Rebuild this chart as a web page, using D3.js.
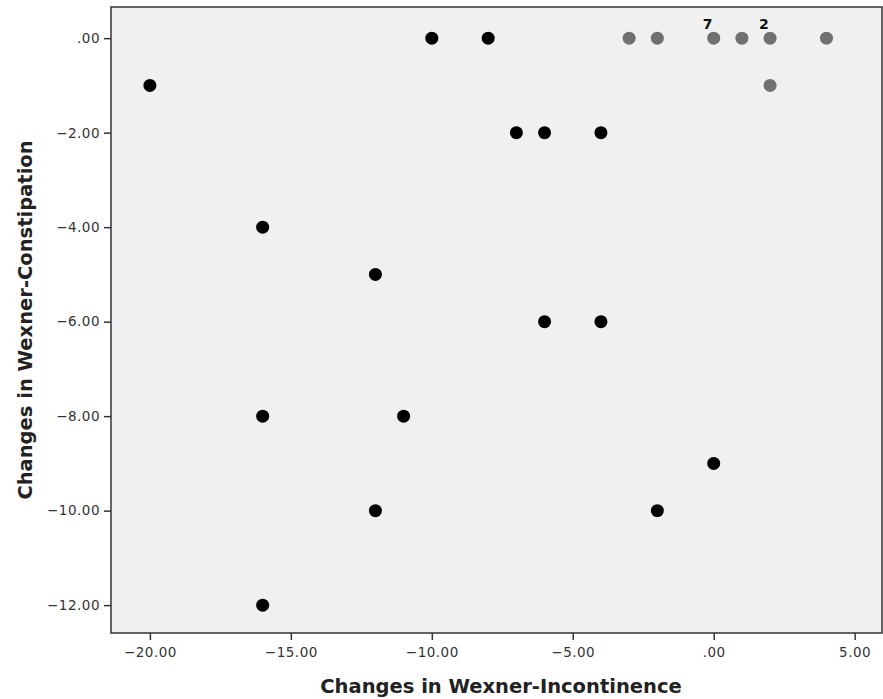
<!DOCTYPE html>
<html>
<head>
<meta charset="utf-8">
<script src="https://cdn.jsdelivr.net/npm/d3@7"></script>
<style>
  body { margin: 0; background: #fff; }
  text { font-family: "DejaVu Sans", sans-serif; }
</style>
</head>
<body>
<div id="chart"></div>
<script>
// black points: [incontinence change, constipation change]
var blackX = [-20, -10, -8, -7, -6, -4, -16, -12, -6, -4, -16, -11, 0, -12, -2, -16];
var blackY = [-1, 0, 0, -2, -2, -2, -4, -5, -6, -6, -8, -8, -9, -10, -10, -12];
// grey points
var greyX = [-3, -2, 0, 1, 2, 4, 2];
var greyY = [0, 0, 0, 0, 0, 0, -1];
var greyLabel = ["", "", "7", "", "2", "", ""];

var xTicks = [-20, -15, -10, -5, 0, 5];
var yTicks = [0, -2, -4, -6, -8, -10, -12];

var width = 883, height = 699;
var pad = {t: 7, r: 1, b: 66, l: 111};

var svg = d3.select("#chart").append("svg")
	.attr("width", width)
	.attr("height", height);

var x = d3.scaleLinear().domain([-21.38, 5.97]).range([pad.l, width - pad.r]);
var y = d3.scaleLinear().domain([0.66, -12.59]).range([pad.t, height - pad.b]);

function fmt(d) {
	var s = d3.format(".2f")(d);
	if (s === "0.00") return ".00";
	return s;
}

// plot background
svg.append("rect")
	.attr("x", pad.l).attr("y", pad.t)
	.attr("width", width - pad.r - pad.l)
	.attr("height", height - pad.b - pad.t)
	.attr("fill", "#f0f0f0")
	.attr("stroke", "#333")
	.attr("stroke-width", 1.5);

var xAxis = svg.append("g")
	.attr("transform", "translate(0," + (height - pad.b) + ")")
	.call(d3.axisBottom(x).tickValues(xTicks).tickFormat(fmt).tickSize(7).tickPadding(7));
var yAxis = svg.append("g")
	.attr("transform", "translate(" + pad.l + ",0)")
	.call(d3.axisLeft(y).tickValues(yTicks).tickFormat(fmt).tickSize(7).tickPadding(4));

[xAxis, yAxis].forEach(function(g) {
	g.select(".domain").remove();
	g.selectAll(".tick line").attr("stroke", "#333").attr("stroke-width", 1.5);
	g.selectAll(".tick text").attr("fill", "#333").style("font-size", "13.5px").style("letter-spacing", "0.5px");
});

var plot = svg.append("g");

plot.selectAll("circle.grey")
	.data(greyX)
	.enter().append("circle")
	.attr("class", "grey")
	.attr("cx", function(d) { return x(d); })
	.attr("cy", function(d, i) { return y(greyY[i]); })
	.attr("r", 6.5)
	.attr("fill", "#707070");

plot.selectAll("circle.black")
	.data(blackX)
	.enter().append("circle")
	.attr("class", "black")
	.attr("cx", function(d) { return x(d); })
	.attr("cy", function(d, i) { return y(blackY[i]); })
	.attr("r", 6.5)
	.attr("fill", "#000");

plot.selectAll("text.lbl")
	.data(greyX)
	.enter().append("text")
	.attr("class", "lbl")
	.attr("x", function(d) { return x(d) - 11; })
	.attr("y", function(d, i) { return y(greyY[i]) - 9; })
	.style("font-size", "14px")
	.style("font-weight", "bold")
	.attr("fill", "#111")
	.text(function(d, i) { return greyLabel[i]; });

svg.append("text")
	.attr("x", 501)
	.attr("y", 693)
	.attr("text-anchor", "middle")
	.style("font-size", "19.5px")
	.style("font-weight", "bold")
	.attr("fill", "#222")
	.text("Changes in Wexner-Incontinence");

svg.append("text")
	.attr("transform", "translate(32," + 320 + ") rotate(-90)")
	.attr("text-anchor", "middle")
	.style("font-size", "19.5px")
	.style("font-weight", "bold")
	.attr("fill", "#222")
	.text("Changes in Wexner-Constipation");
</script>
</body>
</html>
